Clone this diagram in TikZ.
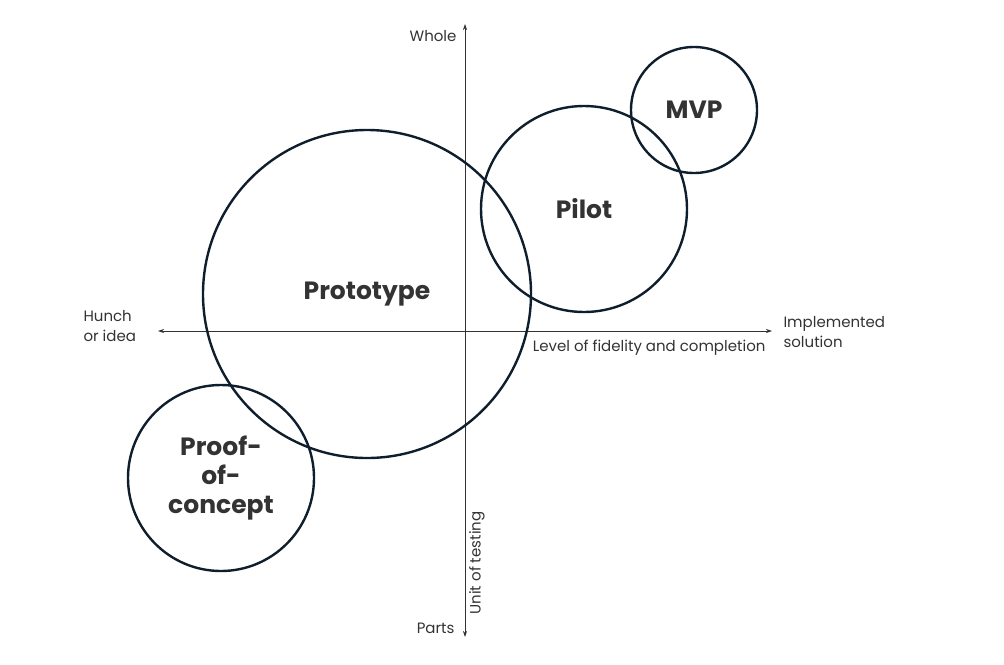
\documentclass[tikz,border=0pt]{standalone}
\usepackage{fontspec}
\setmainfont{Poppins}
\usetikzlibrary{arrows.meta}
\definecolor{ink}{HTML}{0F1E2D}
\definecolor{txt}{HTML}{333333}
\begin{document}
\begin{tikzpicture}[x=1pt,y=-1pt,
  circ/.style={draw=ink,line width=2.4pt},
  big/.style={font=\fontsize{25}{29}\selectfont\bfseries,text=txt,align=center},
  small/.style={font=\fontsize{15}{20}\selectfont,text=txt},
  ax/.style={draw=txt,line width=0.7pt,arrows={Stealth[length=6pt,width=4pt]-Stealth[length=6pt,width=4pt]}}]
\useasboundingbox (0,0) rectangle (1004,664);
\coordinate (L) at (158,331); \coordinate (R) at (772,331);
\coordinate (T) at (465,24); \coordinate (B) at (465,637);
\draw[ax] (L) -- (R);
\draw[ax] (T) -- (B);
\draw[circ] (367,294) circle (164);
\draw[circ] (584,209) circle (103);
\draw[circ] (694,110) circle (63);
\draw[circ] (221,478) circle (93);
\node[big] (proto) at (367,294) {Prototype};
\node[big] (pilot) at (584,209) {Pilot};
\node[big] (mvp) at (694,110) {MVP};
\node[big] (poc) at (221,478) {Proof-\\of-\\concept};
\node[small,anchor=east] (whole) at (460,36) {Whole};
\node[small,anchor=east] (parts) at (458,628) {Parts};
\node[small,rotate=90] (unit) at (477,563) {Unit of testing};
\node[small,anchor=west,align=left] (hunch) at (80,326) {Hunch\\or idea};
\node[small,anchor=west,align=left] (impl) at (780,332) {Implemented\\solution};
\node[small,anchor=east] (lvl) at (769,348) {Level of fidelity and completion};
\end{tikzpicture}
\end{document}
